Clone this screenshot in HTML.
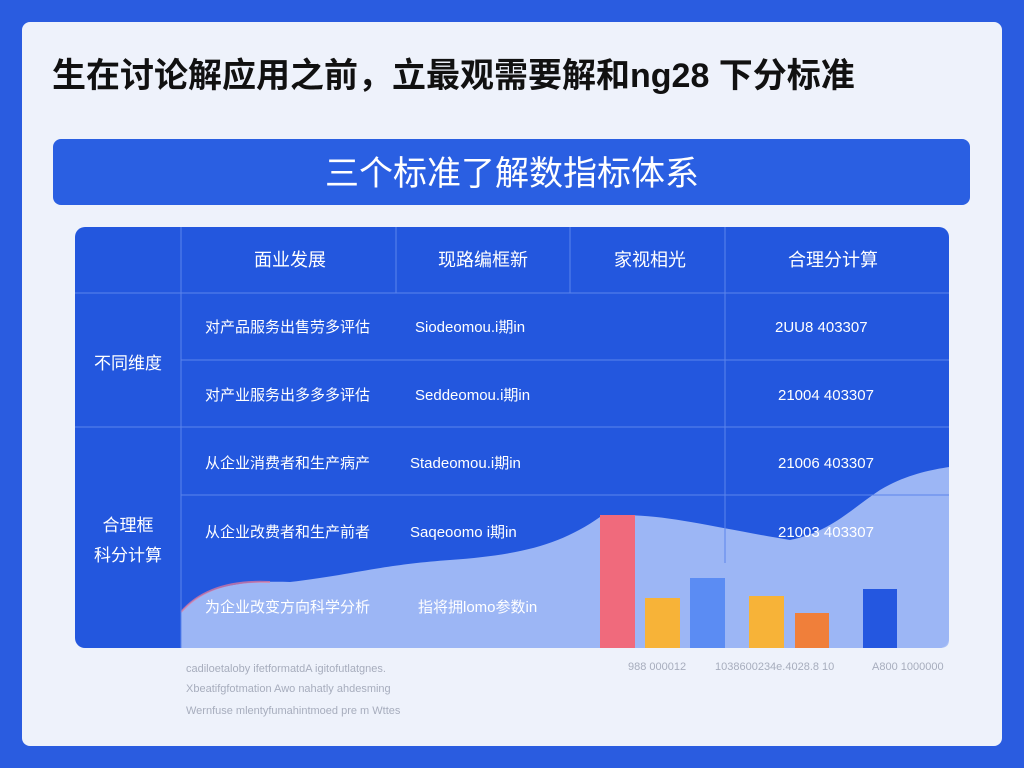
<!DOCTYPE html>
<html><head><meta charset="utf-8"><style>
body{margin:0;background:#2a5ce0;}
svg{display:block}
text{font-family:"Liberation Sans","Noto Sans CJK SC",sans-serif}
</style></head><body>
<svg width="1024" height="768" viewBox="0 0 1024 768" xmlns="http://www.w3.org/2000/svg">
<rect width="1024" height="768" fill="#2a5ce0"/>
<rect x="22" y="22" width="980" height="724" rx="8" fill="#eef2fb"/>
<text x="52" y="87" font-size="34" font-weight="bold" fill="#111">生在讨论解应用之前，立最观需要解和ng28 下分标准</text>
<rect x="53" y="139" width="917" height="66" rx="8" fill="#2a5fe2"/>
<text x="512" y="185" font-size="34" fill="#fff" text-anchor="middle">三个标准了解数指标体系</text>
<rect x="75" y="227" width="874" height="421" rx="10" fill="#2357de"/>
<path d="M181 612 C200 590 230 580 290 582 C350 575 380 565 450 560 C520 555 560 545 600 517 C650 510 700 525 790 540 C830 532 850 510 880 490 C905 475 930 470 949 467 L949 640 Q949 648 940 648 L181 648 Z" fill="#a6bdf6" opacity="0.93"/>
<path d="M181 612 C200 590 230 580 270 582" stroke="#e87a9a" stroke-width="2" fill="none" opacity="0.7"/>
<g stroke="#5b84ec" stroke-width="1">
<line x1="75" y1="293" x2="949" y2="293"/>
<line x1="181" y1="360" x2="949" y2="360"/>
<line x1="75" y1="427" x2="949" y2="427"/>
<line x1="181" y1="495" x2="949" y2="495"/>
<line x1="181" y1="227" x2="181" y2="648"/>
<line x1="396" y1="227" x2="396" y2="293"/>
<line x1="570" y1="227" x2="570" y2="293"/>
<line x1="725" y1="227" x2="725" y2="563"/>
</g>
<g fill="#fff" font-size="18" text-anchor="middle">
<text x="290" y="266">面业发展</text>
<text x="483" y="266">现路编框新</text>
<text x="650" y="266">家视相光</text>
<text x="833" y="266">合理分计算</text>
</g>
<g fill="#fff" font-size="17" text-anchor="middle">
<text x="128" y="369">不同维度</text>
<text x="128" y="531">合理框</text>
<text x="128" y="561">科分计算</text>
</g>
<g fill="#fff" font-size="15">
<text x="205" y="332">对产品服务出售劳多评估</text>
<text x="205" y="400">对产业服务出多多多评估</text>
<text x="205" y="468">从企业消费者和生产病产</text>
<text x="205" y="537">从企业改费者和生产前者</text>
<text x="205" y="612">为企业改变方向科学分析</text>
<text x="415" y="332">Siodeomou.i期in</text>
<text x="415" y="400">Seddeomou.i期in</text>
<text x="410" y="468">Stadeomou.i期in</text>
<text x="410" y="537">Saqeoomo i期in</text>
<text x="418" y="612">指将拥lomo参数in</text>
<text x="775" y="332">2UU8  403307</text>
<text x="778" y="400">21004  403307</text>
<text x="778" y="468">21006  403307</text>
<text x="778" y="537">21003  403307</text>
</g>
<rect x="600" y="515" width="35" height="133" fill="#f06a7c"/>
<rect x="645" y="598" width="35" height="50" fill="#f7b338"/>
<rect x="690" y="578" width="35" height="70" fill="#5b8cf3"/>
<rect x="749" y="596" width="35" height="52" fill="#f7b338"/>
<rect x="795" y="613" width="34" height="35" fill="#f07f3a"/>
<rect x="863" y="589" width="34" height="59" fill="#2457e0"/>
<g fill="#a7adbd" font-size="11">
<text x="186" y="672">cadiloetaloby ifetformatdA igitofutlatgnes.</text>
<text x="186" y="692">Xbeatifgfotmation Awo nahatly ahdesming</text>
<text x="186" y="714">Wernfuse mlentyfumahintmoed pre m Wttes</text>
<text x="628" y="670">988 000012</text>
<text x="715" y="670">1038600234e.4028.8 10</text>
<text x="872" y="670">A800 1000000</text>
</g>
</svg>
</body></html>
